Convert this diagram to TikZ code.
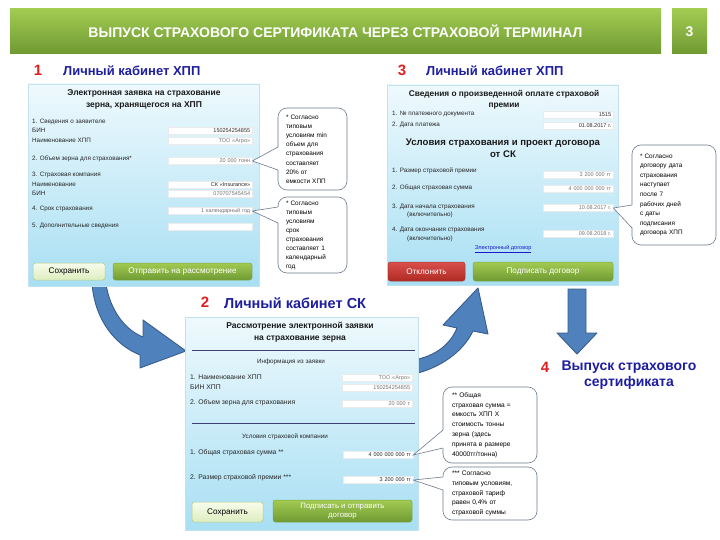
\documentclass[tikz,border=0pt]{standalone}
\usepackage{fontspec}
\setmainfont{Liberation Sans}
\usetikzlibrary{calc}
\definecolor{arrblue}{HTML}{4F81BD}
\definecolor{arredge}{HTML}{385D8A}
\definecolor{hdblue}{HTML}{1E1EA0}
\definecolor{numred}{HTML}{E02020}
\definecolor{pantop}{HTML}{EEF9FD}
\definecolor{panbot}{HTML}{A8DFF3}
\definecolor{panedge}{HTML}{C4E2EE}
\definecolor{grtop}{HTML}{A2CB52}
\definecolor{grbot}{HTML}{6F9A32}
\definecolor{grline}{HTML}{7FA845}
\definecolor{lbtop}{HTML}{F8FCEC}
\definecolor{lbbot}{HTML}{DDEDBE}
\definecolor{lbline}{HTML}{B5C98A}
\definecolor{rdtop}{HTML}{D9504B}
\definecolor{rdbot}{HTML}{B02A24}
\definecolor{rdline}{HTML}{A33A35}
\definecolor{calledge}{HTML}{6E7B8B}
\definecolor{linkblue}{HTML}{1A1ACC}
\begin{document}
\begin{tikzpicture}[x=1pt,y=-1pt,
  every node/.style={inner sep=0pt},
  lbl/.style={anchor=west, font=\fontsize{6.3}{7.6}\selectfont, text=black!85, align=left},
  fld/.style={anchor=west, fill=white, draw=black!8, line width=0.3pt, inner xsep=2pt, inner ysep=0pt, minimum height=7, text width=#1, align=right, font=\fontsize{5.5}{6}\selectfont},
  dk/.style={text=black!85}, gy/.style={text=black!55},
  panel/.style={draw=panedge, line width=0.8pt, top color=pantop, bottom color=panbot},
  ptitle/.style={align=center, font=\bfseries\fontsize{8.5}{12}\selectfont, text=black!90},
  callout/.style={draw=calledge, line width=0.6pt, fill=white, rounded corners=9, inner xsep=8pt, align=left, font=\fontsize{6.4}{9.2}\selectfont},
  cline/.style={draw=calledge, line width=0.6pt},
  gbtn/.style={top color=grtop, bottom color=grbot, draw=grline, line width=0.5pt, rounded corners=2.5, text=white, font=\fontsize{8.2}{9.5}\selectfont, align=center},
  lbtn/.style={top color=lbtop, bottom color=lbbot, draw=lbline, line width=0.5pt, rounded corners=2.5, text=black, font=\fontsize{8.2}{9.5}\selectfont},
  rbtn/.style={top color=rdtop, bottom color=rdbot, draw=rdline, line width=0.5pt, rounded corners=2.5, text=white, font=\fontsize{8.2}{9.5}\selectfont},
  num/.style={text=numred, font=\bfseries\fontsize{15}{16}\selectfont},
  head/.style={text=hdblue, font=\bfseries\fontsize{13}{15}\selectfont, anchor=west},
  barrow/.style={fill=arrblue, draw=arredge, line width=0.9pt, line join=round},
  sepline/.style={draw=black!60!blue!50!gray, line width=0.6pt}
]
\useasboundingbox (0,0) rectangle (720,540);
\fill[white] (0,0) rectangle (720,540);

% ---------- title bar ----------
\node[top color=grtop, bottom color=grbot, minimum width=651, minimum height=45,
      text=white, font=\bfseries\fontsize{14}{15}\selectfont] (title) at (335.5,31.5)
      {ВЫПУСК СТРАХОВОГО СЕРТИФИКАТА ЧЕРЕЗ СТРАХОВОЙ ТЕРМИНАЛ};
\node[top color=grtop, bottom color=grbot, minimum width=35, minimum height=45,
      text=white, font=\bfseries\fontsize{14}{15}\selectfont] (pg) at (689.5,31.5) {3};

% ---------- headings ----------
\node[num] (n1) at (38,70) {1};
\node[head] (h1) at (63,71) {Личный кабинет ХПП};
\node[num] (n3) at (402,70) {3};
\node[head] (h3) at (426,71) {Личный кабинет ХПП};
\node[num] (n2) at (205,302) {2};
\node[head, font=\bfseries\fontsize{14.5}{16}\selectfont] (h2) at (224,303) {Личный кабинет СК};
\node[num] (n4) at (545,367) {4};
\node[text=hdblue, font=\bfseries\fontsize{14}{16}\selectfont, align=center] (h4) at (629,375)
      {Выпуск страхового\\сертификата};

% ---------- block arrows ----------
\path[barrow] (92,284) .. controls (95,320) and (115,345) .. (140,355) -- (140,368) -- (186,351)
   -- (143,320) -- (143,337) .. controls (125,330) and (110,310) .. (106,284) -- cycle;
\path[barrow] (414,360) .. controls (435,356) and (450,345) .. (457,328) -- (443,325) -- (478,288)
   -- (488,334) -- (473,331) .. controls (463,352) and (440,368) .. (414,374) -- cycle;
\path[barrow] (568,289) -- (586,289) -- (586,333) -- (597,333) -- (577,354) -- (557,333)
   -- (568,333) -- cycle;

% ---------- panel 1 ----------
\node[panel, minimum width=231, minimum height=202] (p1) at (143.5,185) {};
\node[ptitle] (p1t) at (144,99) {Электронная заявка на страхование\\зерна, хранящегося на ХПП};
\node[lbl] (l1a) at (32,122) {1. Сведения о заявителе};
\node[lbl] (l1b) at (32,130.5) {БИН};
\node[fld=80pt, dk] (f1a) at (168,131) {150254254855};
\node[lbl] (l1c) at (32,140) {Наименование ХПП};
\node[fld=80pt, gy] (f1b) at (168,141) {ТОО «Агро»};
\node[lbl] (l1d) at (32,159) {2. Объем зерна для страхования*};
\node[fld=80pt, gy] (f1c) at (168,161) {20 000 тонн};
\node[lbl] (l1e) at (32,175) {3. Страховая компания};
\node[lbl] (l1f) at (32,184) {Наименование};
\node[fld=80pt, dk] (f1d) at (168,185) {СК «Insurance»};
\node[lbl] (l1g) at (32,193) {БИН};
\node[fld=80pt, gy] (f1e) at (168,194) {070707545454};
\node[lbl] (l1h) at (32,209) {4. Срок страхования};
\node[fld=80pt, gy] (f1f) at (168,211) {1 календарный год};
\node[lbl] (l1i) at (32,226) {5. Дополнительные сведения};
\node[fld=80pt, gy] (f1g) at (168,227) {};
\node[lbtn, minimum width=72, minimum height=17] (b1s) at (69,271.5) {Сохранить};
\node[gbtn, minimum width=139, minimum height=17] (b1o) at (182.5,271.5) {Отправить на рассмотрение};

% ---------- panel 3 ----------
\node[panel, minimum width=231, minimum height=200] (p3) at (502.5,185) {};
\node[ptitle, font=\bfseries\fontsize{8.3}{11}\selectfont] (p3t) at (504,99.5) {Сведения о произведенной оплате страховой\\премии};
\node[lbl] (l3a) at (392,114) {1. № платежного документа};
\node[fld=66pt, dk] (f3p) at (543,115) {1515};
\node[lbl] (l3b) at (392,125) {2. Дата платежа};
\node[fld=66pt, dk] (f3q) at (543,126) {01.08.2017 г.};
\node[ptitle, font=\bfseries\fontsize{9.6}{12}\selectfont] (p3u) at (503,148) {Условия страхования и проект договора\\от СК};
\node[lbl] (l3c) at (392,171) {1. Размер страховой премии};
\node[fld=66pt, gy] (f3a) at (543,175) {3 200 000 тг};
\node[lbl] (l3d) at (392,188) {2. Общая страховая сумма};
\node[fld=66pt, gy] (f3b) at (543,189) {4 000 000 000 тг};
\node[lbl] (l3e) at (392,207) {3. Дата начала страхования};
\node[lbl] (l3f) at (407,215) {(включительно)};
\node[fld=66pt, gy] (f3c) at (543,208) {10.08.2017 г.};
\node[lbl] (l3g) at (392,230) {4. Дата окончания страхования};
\node[lbl] (l3h) at (407,239) {(включительно)};
\node[fld=66pt, gy] (f3d) at (543,234) {09.08.2018 г.};
\node[text=linkblue, font=\fontsize{5.6}{6}\selectfont] (lnk) at (503,249) {\underline{Электронный договор}};
\node[rbtn, minimum width=77, minimum height=19] (b3r) at (426.5,271.5) {Отклонить};
\node[gbtn, minimum width=140, minimum height=19] (b3g) at (543,271.5) {Подписать договор};

% ---------- panel 2 ----------
\node[panel, minimum width=233, minimum height=213] (p2) at (301.5,423.5) {};
\node[ptitle] (p2t) at (300,332) {Рассмотрение электронной заявки\\на страхование зерна};
\draw[sepline] (192,350) -- (415,350);
\node[lbl, anchor=center] (l2h) at (291,362) {Информация из заявки};
\node[lbl, font=\fontsize{6.8}{8}\selectfont] (l2a) at (190,377) {1. Наименование ХПП};
\node[lbl, font=\fontsize{6.8}{8}\selectfont] (l2b) at (190,387) {БИН ХПП};
\node[fld=66pt, gy] (f2a) at (342,378) {ТОО «Агро»};
\node[fld=66pt, gy] (f2b) at (342,388) {150254254855};
\node[lbl, font=\fontsize{6.8}{8}\selectfont] (l2c) at (190,403) {2. Объем зерна для страхования};
\node[fld=66pt, gy] (f2c) at (342,404) {20 000 т};
\draw[sepline] (192,423) -- (415,423);
\node[lbl, anchor=center] (l2u) at (285,437) {Условия страховой компании};
\node[lbl, font=\fontsize{6.8}{8}\selectfont] (l2d) at (190,453) {1. Общая страховая сумма **};
\node[fld=66pt, dk] (f2d) at (343,455) {4 000 000 000 тг};
\node[lbl, font=\fontsize{6.8}{8}\selectfont] (l2e) at (190,478) {2. Размер страховой премии ***};
\node[fld=66pt, dk] (f2e) at (343,480) {3 200 000 тг};
\node[lbtn, minimum width=71, minimum height=20] (b2s) at (227.5,512) {Сохранить};
\node[gbtn, minimum width=139, minimum height=22, font=\fontsize{7.8}{8.6}\selectfont] (b2g) at (342.5,511) {Подписать и отправить\\договор};

% ---------- callouts ----------
\node[callout, minimum width=69, minimum height=82, text width=53pt] (c1) at (312.5,149)
  {* Согласно\\типовым\\условиям min\\объем для\\страхования\\составляет\\20\% от\\емкости ХПП};
\node[callout, minimum width=69, minimum height=76, text width=53pt,
      font=\fontsize{6.4}{9}\selectfont] (c2) at (312.5,235)
  {* Согласно\\типовым\\условиям\\срок\\страхования\\составляет 1\\календарный\\год};
\node[callout, minimum width=84, minimum height=100, text width=68pt,
      font=\fontsize{6.4}{9.6}\selectfont] (c3) at (674,195)
  {* Согласно\\договору дата\\страхования\\наступает\\после 7\\рабочих дней\\с даты\\подписания\\договора ХПП};
\node[callout, minimum width=94, minimum height=76, text width=76pt,
      font=\fontsize{6.6}{9.8}\selectfont] (c4) at (490,425)
  {** Общая\\страховая сумма =\\емкость ХПП Х\\стоимость тонны\\зерна (здесь\\принята в размере\\40000тг/тонна)};
\node[callout, minimum width=94, minimum height=53, text width=76pt,
      font=\fontsize{6.6}{9.8}\selectfont] (c5) at (490,493.5)
  {*** Согласно\\типовым условиям,\\страховой тариф\\равен 0,4\% от\\страховой суммы};

% pointers
\fill[white] (279,147) -- (f1c.east) -- (279,170) -- cycle;
\draw[cline] (278,147) -- (f1c.east) -- (278,170);
\fill[white] (279,207) -- (f1f.east) -- (279,223) -- cycle;
\draw[cline] (278,207) -- (f1f.east) -- (278,223);
\fill[white] (633,205) -- (f3c.east) -- (633,228) -- cycle;
\draw[cline] (632,205) -- (f3c.east) -- (632,228);
\fill[white] (444,430) -- (f2d.east) -- (444,448) -- cycle;
\draw[cline] (443,430) -- (f2d.east) -- (443,448);
\fill[white] (444,477) -- (f2e.east) -- (444,490) -- cycle;
\draw[cline] (443,477) -- (f2e.east) -- (443,490);
\end{tikzpicture}
\end{document}
